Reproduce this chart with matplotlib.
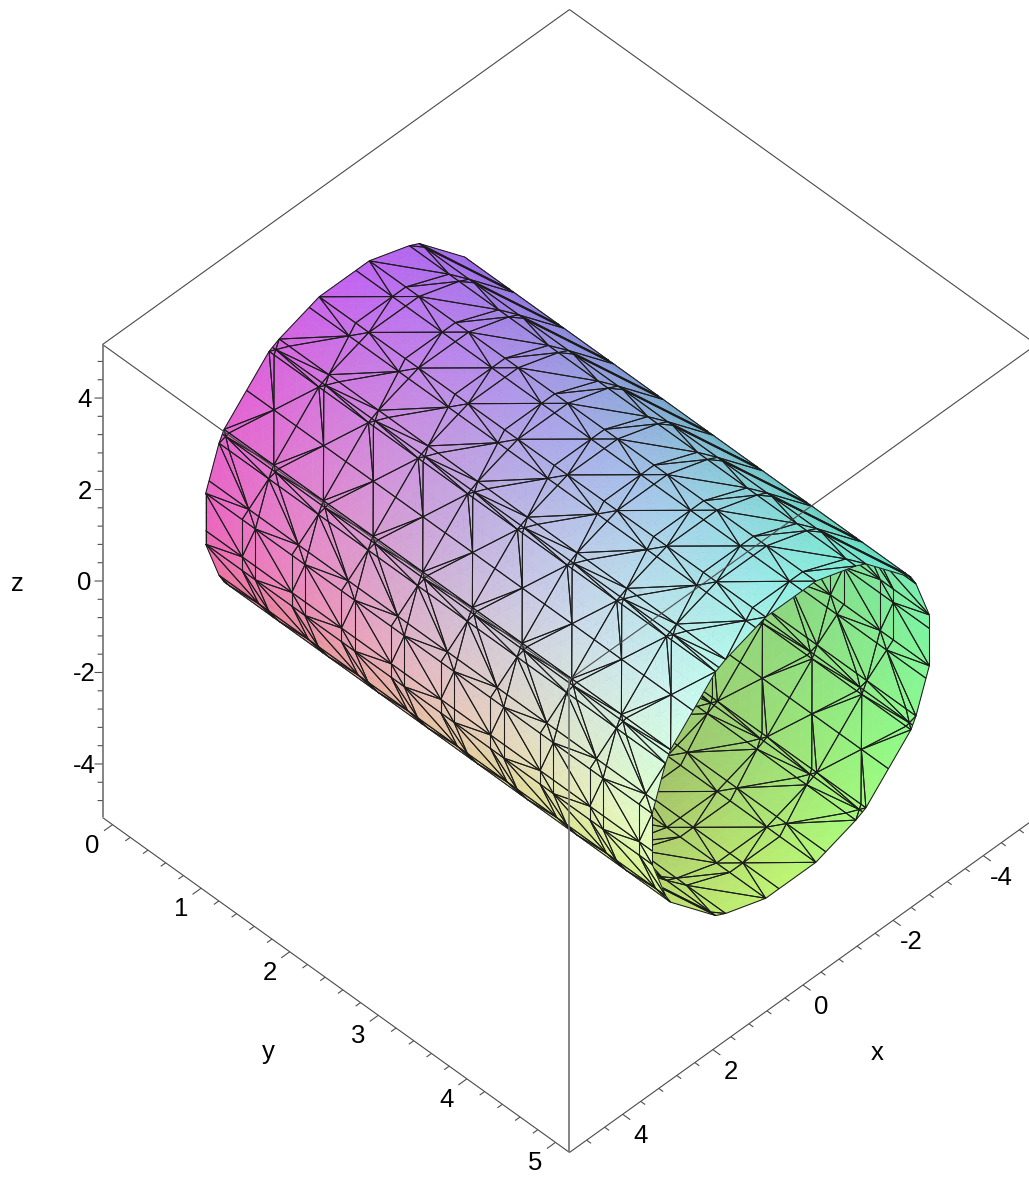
import numpy as np
import itertools
import matplotlib
matplotlib.use('Agg')
import matplotlib.pyplot as plt
from mpl_toolkits.mplot3d import proj3d
from mpl_toolkits.mplot3d.art3d import Poly3DCollection, Line3DCollection

plt.rcParams['font.family'] = ['Liberation Sans', 'DejaVu Sans']

# grid of the implicit surface x^2 + z^2 = radius_sq
x_grid = [-5.0, -3.889, -2.778, -1.667, -0.556, 0.556, 1.667, 2.778, 3.889, 5.0]
y_grid = [-0.02, 0.541, 1.101, 1.662, 2.222, 2.783, 3.344, 3.904, 4.465, 5.02]
z_grid = [-5.0, -3.889, -2.778, -1.667, -0.556, 0.556, 1.667, 2.778, 3.889, 5.0]
radius_sq = 10.0

# box limits
x_lim = (-5.18, 5.18)
y_lim = (-0.113, 5.158)
z_lim = (-5.17, 5.17)

# ticks
x_major = [-4, -2, 0, 2, 4]
y_major = [0, 1, 2, 3, 4, 5]
z_major = [-4, -2, 0, 2, 4]
x_minor = [-4.8, -4.4, -3.6, -3.2, -2.8, -2.4, -1.6, -1.2, -0.8, -0.4, 0.4, 0.8, 1.2, 1.6, 2.4, 2.8, 3.2, 3.6, 4.4, 4.8]
y_minor = [0.2, 0.4, 0.6, 0.8, 1.2, 1.4, 1.6, 1.8, 2.2, 2.4, 2.6, 2.8, 3.2, 3.4, 3.6, 3.8, 4.2, 4.4, 4.6, 4.8]
z_minor = x_minor

outer_angles = [-35, 0, 45, 90, 145]
outer_y = [0.0, 1.25, 2.5, 3.75, 5.0]
outer_colours = [
    [(235, 120, 150), (235, 100, 190), (225, 100, 215), (195, 100, 240), (160, 105, 235)],
    [(235, 160, 150), (235, 145, 190), (215, 140, 215), (185, 135, 235), (140, 140, 225)],
    [(235, 205, 155), (230, 190, 195), (200, 180, 225), (170, 170, 235), (120, 175, 205)],
    [(225, 230, 140), (230, 225, 190), (205, 220, 235), (165, 210, 235), (110, 205, 200)],
    [(205, 245, 120), (230, 255, 190), (205, 250, 240), (150, 240, 230), (100, 230, 195)],
]

# colours of the inner wall seen through the open end
inner_angles = [145, 180, 225, 270, 325]
inner_y = [3.5, 5.0]
inner_colours = [
    [(140, 195, 150), (130, 215, 135), (150, 215, 120), (165, 195, 105), (165, 180, 110)],
    [(120, 235, 185), (125, 245, 160), (150, 250, 130), (190, 245, 115), (190, 225, 110)],
]

# every cube is cut in six tetrahedra around the diagonal from this corner
start_corner = (0, 1, 0)
tets = []
for order in itertools.permutations(range(3)):
    corner = list(start_corner)
    tet = [tuple(corner)]
    for axis in order:
        corner[axis] = 1 - corner[axis]
        tet.append(tuple(corner))
    tets.append(tet)


def field(p):
    return p[0] ** 2 + p[2] ** 2 - radius_sq


def crossing(a, b):
    fa, fb = field(a), field(b)
    return a + (b - a) * fa / (fa - fb)


triangles = []
for i in range(len(x_grid) - 1):
    for j in range(len(y_grid) - 1):
        for k in range(len(z_grid) - 1):
            for tet in tets:
                pts = [np.array([x_grid[i + a], y_grid[j + b], z_grid[k + c]]) for a, b, c in tet]
                ins = [p for p in pts if field(p) < 0]
                out = [p for p in pts if field(p) >= 0]
                if len(ins) == 1:
                    triangles.append([crossing(ins[0], q) for q in out])
                elif len(ins) == 3:
                    triangles.append([crossing(q, out[0]) for q in ins])
                elif len(ins) == 2:
                    a0, a1 = ins
                    b0, b1 = out
                    triangles.append([crossing(a0, b0), crossing(a0, b1), crossing(a1, b0)])
                    triangles.append([crossing(a0, b1), crossing(a1, b1), crossing(a1, b0)])
triangles = np.array(triangles)

elev, azim = 45.83, 45.0
box = (660.4, 660.4, 678.8)
view_x = np.cos(np.radians(elev)) * np.cos(np.radians(azim)) / 45.0
view_z = np.sin(np.radians(elev)) / 45.75
cent = triangles.mean(axis=1)
front = cent[:, 0] * view_x + cent[:, 2] * view_z > 0


def table_colour(theta, y, angles, rows, table):
    table = np.array(table, dtype=float)
    col = np.zeros((len(theta), 3))
    for c in range(3):
        vals = np.array([np.interp(theta, angles, table[r, :, c]) for r in range(len(rows))])
        for n in range(len(theta)):
            col[n, c] = np.interp(y[n], rows, vals[:, n])
    return col / 255


def split(tris, n=4):
    # cut every mesh triangle so the colour can run smoothly over it
    small = []
    for a in range(n):
        for b in range(n - a):
            small.append([(a, b), (a + 1, b), (a, b + 1)])
            if a + b < n - 1:
                small.append([(a + 1, b), (a + 1, b + 1), (a, b + 1)])
    out = []
    for tri in tris:
        for s in small:
            out.append([tri[0] + (tri[1] - tri[0]) * u / n + (tri[2] - tri[0]) * v / n for u, v in s])
    return np.array(out)


outer = split(triangles[front])
inner = split(triangles[~front])
oc = outer.mean(axis=1)
ic = inner.mean(axis=1)
outer_fc = table_colour(np.degrees(np.arctan2(oc[:, 2], oc[:, 0])), oc[:, 1], outer_angles, outer_y, outer_colours)
inner_fc = table_colour(np.degrees(np.arctan2(ic[:, 2], ic[:, 0])) % 360, ic[:, 1], inner_angles, inner_y, inner_colours)

W, H = 1029, 1184
fig = plt.figure(figsize=(W / 100, H / 100), dpi=100)
ax = fig.add_axes([0, 0, 1, 1], projection='3d', proj_type='ortho', computed_zorder=False)
ax.view_init(elev=elev, azim=azim)
ax.set_box_aspect(box)
ax.set_xlim(*x_lim, view_margin=0)
ax.set_ylim(*y_lim, view_margin=0)
ax.set_zlim(*z_lim, view_margin=0)
ax.set_axis_off()

# place the axes so the box lands on the picture's pixels
scale = np.linalg.norm(box) / (1.8294640721620434 * 25 / 24) * 10
vl = ax.viewLim
S = scale * (vl.x1 - vl.x0)
cx, cy = 569.5, 581.0
left = cx + scale * vl.x0
bottom = (H - cy) + scale * vl.y0
ax.set_position([left / W, bottom / H, S / W, S / H])


def edges(tris):
    return np.concatenate([tris[:, [0, 1]], tris[:, [1, 2]], tris[:, [2, 0]]])


mesh_kw = dict(colors='#1c1c1c', linewidths=0.75, clip_on=False)
ax.add_collection3d(Poly3DCollection(inner, facecolors=inner_fc, edgecolors=inner_fc, linewidths=0.4, zorder=1), autolim=False)
ax.add_collection3d(Line3DCollection(edges(triangles[~front]), zorder=2, **mesh_kw), autolim=False)
ax.add_collection3d(Poly3DCollection(outer, facecolors=outer_fc, edgecolors=outer_fc, linewidths=0.4, zorder=3), autolim=False)
ax.add_collection3d(Line3DCollection(edges(triangles[front]), zorder=4, **mesh_kw), autolim=False)

# box frame
x0, x1 = x_lim
y0, y1 = y_lim
z0, z1 = z_lim
frame = [
    [(x0, y0, z1), (x1, y0, z1)],
    [(x0, y0, z1), (x0, y1, z1)],
    [(x1, y0, z1), (x1, y1, z1)],
    [(x0, y1, z1), (x1, y1, z1)],
    [(x1, y0, z0), (x1, y1, z0)],
    [(x1, y1, z0), (x0, y1, z0)],
]
ax.add_collection3d(Line3DCollection(frame, colors='#4a4a4a', linewidths=0.8, zorder=5, clip_on=False), autolim=False)
posts = [[(x1, y0, z0), (x1, y0, z1)], [(x1, y1, z0), (x1, y1, z1)]]
ax.add_collection3d(Line3DCollection(posts, colors='#707070', linewidths=1.2, zorder=5, clip_on=False), autolim=False)

# tick marks
ticks = []
for v in z_major:
    ticks.append([(x1, y0, v), (x1 + 0.089, y0 - 0.045, v)])
for v in z_minor:
    ticks.append([(x1, y0, v), (x1 + 0.055, y0 - 0.028, v)])
for v in y_major:
    ticks.append([(x1, v, z0), (x1 + 0.19, v, z0)])
for v in y_minor:
    ticks.append([(x1, v, z0), (x1 + 0.11, v, z0)])
for v in x_major:
    ticks.append([(v, y1, z0), (v, y1 + 0.085, z0)])
for v in x_minor:
    ticks.append([(v, y1, z0), (v, y1 + 0.05, z0)])
ax.add_collection3d(Line3DCollection(ticks, colors='#505050', linewidths=0.8, zorder=5, clip_on=False), autolim=False)


def label(text, x, y, z, dx, dy):
    u, v, _ = proj3d.proj_transform(x, y, z, ax.get_proj())
    ax.annotate(text, (u, v), xytext=(dx, dy), textcoords='offset pixels', ha='center', va='center',
                fontsize=18.5, color='black', annotation_clip=False, zorder=6)


for v in z_major:
    label(str(v), x1, y0, v, -18, -2)
for v in y_major:
    label(str(v), x1, v, z0, -20, -21)
for v in x_major:
    label(str(v), v, y1, z0, 18, -22)
label('z', x1, y0, 0, -85, -3)
label('y', x1, 2.5, z0, -66, -68)
label('x', 0, y1, z0, 74, -68)

fig.savefig('out.png', dpi=100)
